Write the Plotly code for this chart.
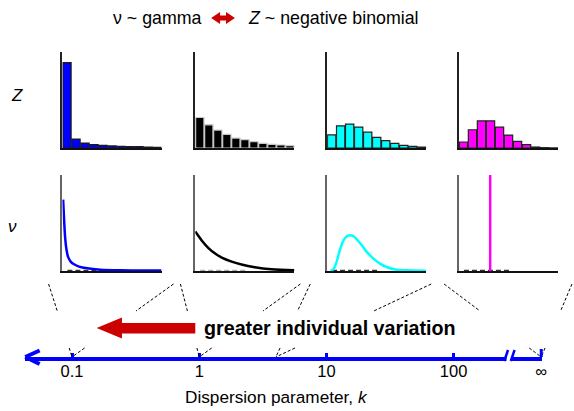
import math
import plotly.graph_objects as go

W, H = 574, 411

# ---------------- data ----------------
counts = list(range(11))
z_k01 = [0.712, 0.074, 0.041, 0.028, 0.022, 0.017, 0.014, 0.011, 0.011, 0.008, 0.006]
z_k1 = [0.254, 0.193, 0.149, 0.113, 0.083, 0.069, 0.052, 0.039, 0.030, 0.025, 0.019]
z_k4 = [0.110, 0.185, 0.199, 0.174, 0.132, 0.088, 0.061, 0.039, 0.022, 0.014, 0.008]
z_kinf = [0.050, 0.152, 0.226, 0.226, 0.174, 0.108, 0.055, 0.028, 0.008, 0.003, 0.001]

nu_k01_x = [0.07, 0.17, 0.27, 0.4, 0.57, 0.83, 1.17, 1.67, 2.5, 3.83, 5.83, 10]
nu_k01_y = [0.744, 0.526, 0.351, 0.228, 0.147, 0.098, 0.070, 0.046, 0.028, 0.014, 0.007, 0.004]
nu_k1_x = [0, 0.67, 1.33, 2, 2.67, 3.67, 4.67, 6, 7.67, 10]
nu_k1_y = [0.411, 0.316, 0.239, 0.182, 0.140, 0.098, 0.067, 0.039, 0.018, 0.007]
nu_k4_x = [0.33, 0.67, 1, 1.33, 1.67, 2, 2.33, 2.67, 3, 3.5, 4, 4.67, 5.33, 6, 7, 8, 10]
nu_k4_y = [0, 0.024, 0.111, 0.233, 0.321, 0.362, 0.373, 0.362, 0.328, 0.268, 0.199,
           0.129, 0.077, 0.042, 0.014, 0.007, 0.003]
nu_kinf_x = [3.15, 3.15]
nu_kinf_y = [0, 1]

k_values = [0.1, 1, 4, math.inf]
k_tick_vals = [0.1, 1, 10, 100]
k_tick_text = ["0.1", "1", "10", "100"]
inf_label = "\u221e"

colors = ["#0000ff", "#000000", "#00ffff", "#ff00ff"]
bar_lines = ["#1a1a1a", "#c8c8c8", "#222222", "#222222"]

# ---------------- layout geometry (pixels) ----------------
panel_x_px = [(63, 163), (197, 297), (330, 430), (463, 563)]
top_row_px = (52, 148)
bot_row_px = (175, 271)
k_axis_px = (25, 547)
k_axis_y_px = 357
k_label_line_px = 359
u0 = (25 - 201) / 128.3
u1 = (547 - 201) / 128.3
u_inf = (546 - 201) / 128.3
conn_top_px = [(49, 175), (182, 303), (313, 435), (448, 577)]
conn_top_y, conn_gap1, conn_gap2 = 284, 311, 348

FONT = "Arial, Liberation Sans, sans-serif"


def px(x, y):
    return x / W, 1 - y / H


def kx(k):
    u = u_inf if math.isinf(k) else math.log10(k)
    return k_axis_px[0] + (u - u0) / (u1 - u0) * (k_axis_px[1] - k_axis_px[0])


fig = go.Figure()
layout = dict(
    width=W, height=H, margin=dict(l=0, r=0, t=0, b=0),
    paper_bgcolor="white", plot_bgcolor="rgba(0,0,0,0)",
    showlegend=False, font=dict(family=FONT, color="black"),
)

z_series = [z_k01, z_k1, z_k4, z_kinf]
nu_series = [(nu_k01_x, nu_k01_y), (nu_k1_x, nu_k1_y), (nu_k4_x, nu_k4_y), (nu_kinf_x, nu_kinf_y)]
dash_cols = ["#333333", "#aaaaaa", "#333333", "#333333"]

for i in range(4):
    xa_t, ya_t = 2 * i + 1, 2 * i + 2
    fig.add_trace(go.Bar(x=counts, y=z_series[i], marker=dict(color=colors[i],
                  line=dict(color=bar_lines[i], width=1.2)),
                  xaxis=f"x{xa_t}", yaxis=f"y{xa_t}"))
    nx, ny = nu_series[i]
    fig.add_trace(go.Scatter(x=[0.5, 5.2], y=[0, 0], mode="lines",
                  line=dict(color=dash_cols[i], width=2.5, dash="5px,3px"),
                  cliponaxis=False, xaxis=f"x{ya_t}", yaxis=f"y{ya_t}"))
    fig.add_trace(go.Scatter(x=nx, y=ny, mode="lines",
                  line=dict(color=colors[i], width=2.5, shape="spline" if i < 3 else "linear"),
                  cliponaxis=False, xaxis=f"x{ya_t}", yaxis=f"y{ya_t}"))
    x0, x1 = panel_x_px[i]
    dom_x = [x0 / W, x1 / W]
    for ax_id, rows, xr, yr, ycol in [
        (xa_t, top_row_px, [-0.5, 10.5], [0, 0.8], "#222222"),
        (ya_t, bot_row_px, [0, 10], [0, 1], "#666666"),
    ]:
        dom_y = [1 - rows[1] / H, 1 - rows[0] / H]
        layout[f"xaxis{ax_id}"] = dict(domain=dom_x, range=xr, anchor=f"y{ax_id}",
                                       showline=True, linecolor="#111111", linewidth=1.5,
                                       showticklabels=False, ticks="", showgrid=False,
                                       zeroline=False, fixedrange=True)
        layout[f"yaxis{ax_id}"] = dict(domain=dom_y, range=yr, anchor=f"x{ax_id}",
                                       showline=True, linecolor=ycol, linewidth=1.5,
                                       showticklabels=False, ticks="", showgrid=False,
                                       zeroline=False, fixedrange=True)

layout["bargap"] = 0.08

# k axis (log scale): line + ticks on x9, labels on x10 (same scale)
all_tick_vals = k_tick_vals + [10 ** u_inf]
all_tick_text = k_tick_text + [inf_label]
fig.add_trace(go.Scatter(x=k_tick_vals, y=[0] * 4, mode="markers", opacity=0,
                         xaxis="x9", yaxis="y9", hoverinfo="skip"))
fig.add_trace(go.Scatter(x=k_tick_vals, y=[0] * 4, mode="markers", opacity=0,
                         xaxis="x10", yaxis="y10", hoverinfo="skip"))
k_dom = [k_axis_px[0] / W, k_axis_px[1] / W]
layout["xaxis9"] = dict(type="log", domain=k_dom, range=[u0, u1], anchor="y9",
                        showline=True, linecolor="#0000ff", linewidth=3.5,
                        ticks="inside", ticklen=4, tickwidth=3, tickcolor="#0000ff",
                        tickvals=all_tick_vals, showticklabels=False,
                        showgrid=False, zeroline=False, fixedrange=True)
layout["yaxis9"] = dict(domain=[1 - k_axis_y_px / H, 1 - (k_axis_y_px - 20) / H],
                        range=[0, 1], anchor="x9", visible=False, fixedrange=True)
layout["xaxis10"] = dict(type="log", domain=k_dom, range=[u0, u1], anchor="y10",
                         showline=False, ticks="", tickvals=all_tick_vals,
                         ticktext=all_tick_text,
                         tickfont=dict(size=16.5, family=FONT, color="black"),
                         showgrid=False, zeroline=False, fixedrange=True)
layout["yaxis10"] = dict(domain=[1 - k_label_line_px / H, 1 - (k_label_line_px - 20) / H],
                         range=[0, 1], anchor="x10", visible=False, fixedrange=True)

shapes = []


def line(a, b, color, width, dash="solid"):
    (xa, ya), (xb, yb) = px(*a), px(*b)
    shapes.append(dict(type="line", xref="paper", yref="paper", x0=xa, y0=ya, x1=xb, y1=yb,
                       line=dict(color=color, width=width, dash=dash)))


def path(points, color):
    d = "M" + " L".join(f"{px(x, y)[0]:.5f},{px(x, y)[1]:.5f}" for x, y in points) + " Z"
    shapes.append(dict(type="path", xref="paper", yref="paper", path=d,
                       fillcolor=color, line=dict(width=0)))


for i, k in enumerate(k_values):
    tx = kx(k)
    for sx in conn_top_px[i]:
        def at(yy):
            return sx + (tx - sx) * (yy - conn_top_y) / (k_axis_y_px - conn_top_y)
        line((sx, conn_top_y), (at(conn_gap1), conn_gap1), "black", 1, "3px,2px")
        line((at(conn_gap2), conn_gap2), (tx, k_axis_y_px), "black", 1, "3px,2px")

path([(511, 352), (516, 352), (516, 362), (511, 362)], "white")
line((508.7, 361), (512.5, 350), "#0000ff", 2.5)
line((515.3, 361), (519.1, 350), "#0000ff", 2.5)
line((kx(math.inf), 349), (kx(math.inf), k_axis_y_px), "#0000ff", 3)
line((40, 350.5), (25.5, k_axis_y_px), "#0000ff", 4)
line((25.5, k_axis_y_px), (40, 364), "#0000ff", 4)

path([(97.5, 328), (123, 317.5), (123, 323), (197, 323), (197, 333.5), (123, 333.5),
      (123, 338.5)], "#cc0000")
path([(213, 18), (222, 12), (222, 15.5), (228, 15.5), (228, 12), (237, 18),
      (228, 24), (228, 20.5), (222, 20.5), (222, 24)], "#cc0000")

layout["shapes"] = shapes

ann = []


def text(x, y, s, size, anchor="center", **kw):
    ax, ay = px(x, y)
    ann.append(dict(x=ax, y=ay, xref="paper", yref="paper", text=s, showarrow=False,
                    xanchor=anchor, yanchor="middle",
                    font=dict(size=size, family=FONT, color="black"), **kw))


text(206, 18, "\u03bd ~ gamma", 17.8, "right")
text(248, 18, "<i>Z</i> ~ negative binomial", 17.8, "left")
text(17, 95, "<i>Z</i>", 17)
text(13, 226, "<i>\u03bd</i>", 17)
text(204, 328, "<b>greater individual variation</b>", 19.7, "left")
text(279, 397, "Dispersion parameter, <i>k</i>", 17.2)
layout["annotations"] = ann

fig.update_layout(**layout)
fig.write_html("out.html", config={"displayModeBar": False})

with open("out.html", "r", encoding="utf-8") as f:
    html = f.read()
html = html.replace("<head>", "<head><style>html,body{margin:0;padding:0;overflow:hidden;}</style>", 1)
with open("out.html", "w", encoding="utf-8") as f:
    f.write(html)
